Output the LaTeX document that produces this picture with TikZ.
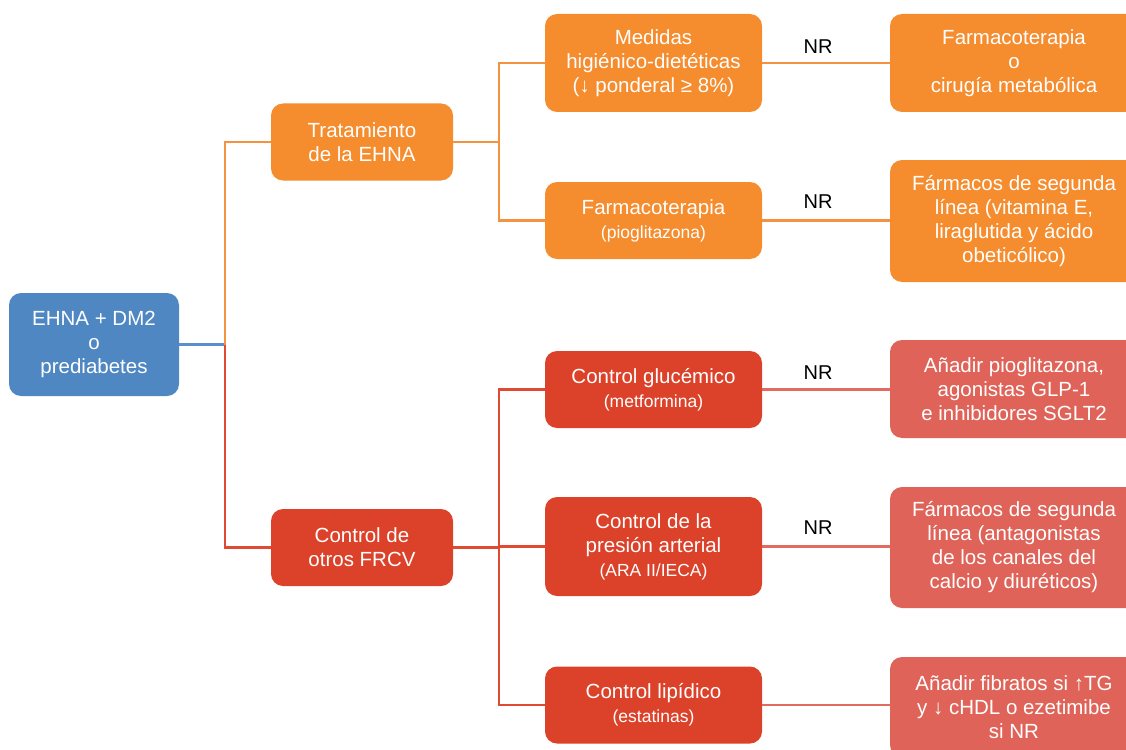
\documentclass[tikz,border=0pt]{standalone}
\usepackage{fontspec}
\setmainfont{Liberation Sans}
\definecolor{cblue}{HTML}{4F87C2}
\definecolor{corange}{HTML}{F58C2D}
\definecolor{cred}{HTML}{DC4129}
\definecolor{clight}{HTML}{DF6358}
\definecolor{lblue}{HTML}{5A8FCB}
\definecolor{lorange}{HTML}{F59240}
\definecolor{lred}{HTML}{E04A33}
\definecolor{llight}{HTML}{E36A61}
\newcommand{\smtxt}{\fontsize{17.5}{24}\selectfont}
\tikzset{
  box/.style={rounded corners=12pt, text=white, align=center, inner sep=0pt,
    font=\fontsize{20.5}{24}\selectfont},
  bluebox/.style={box, fill=cblue, minimum width=170pt, minimum height=103pt},
  orbox/.style={box, fill=corange},
  rdbox/.style={box, fill=cred},
  ltbox/.style={box, fill=clight},
  lvtwo/.style={minimum width=182pt, minimum height=77pt},
  lvthree/.style={minimum width=217pt},
  rbox/.style={minimum width=248pt},
  ln/.style={line width=2.2pt},
  nrlab/.style={font=\fontsize{20}{24}\selectfont, text=black, inner sep=0pt}
}
\begin{document}
\begin{tikzpicture}[x=1pt,y=-1pt]
\useasboundingbox (0,0) rectangle (1126,749);
\clip (0,0) rectangle (1126,749);
% level 1
\node[bluebox] (ehna) at (94,344.5) {EHNA + DM2\\o\\prediabetes};
% level 2
\node[orbox,lvtwo] (trat) at (362,142) {Tratamiento\\de la EHNA};
\node[rdbox,lvtwo] (frcv) at (362,547.5) {Control de\\otros FRCV};
% level 3
\node[orbox,lvthree,minimum height=98pt] (med) at (653.5,63) {Medidas\\higiénico-dietéticas\\(↓ ponderal ≥ 8\%)};
\node[orbox,lvthree,minimum height=77pt] (farm) at (653.5,220.5) {Farmacoterapia\\{\smtxt(pioglitazona)}};
\node[rdbox,lvthree,minimum height=77pt] (gluc) at (653.5,389.5) {Control glucémico\\{\smtxt(metformina)}};
\node[rdbox,lvthree,minimum height=99pt] (pres) at (653.5,546.5) {Control de la\\presión arterial\\{\smtxt(ARA II/IECA)}};
\node[rdbox,lvthree,minimum height=77pt] (lip) at (653.5,705) {Control lipídico\\{\smtxt(estatinas)}};
% level 4
\node[orbox,rbox,minimum height=98pt] (r1) at (1014,63) {Farmacoterapia\\o\\cirugía metabólica};
\node[orbox,rbox,minimum height=122pt] (r2) at (1014,221) {Fármacos de segunda\\línea (vitamina E,\\liraglutida y ácido\\obeticólico)};
\node[ltbox,rbox,minimum height=98pt] (r3) at (1014,389) {Añadir pioglitazona,\\agonistas GLP-1\\e inhibidores SGLT2};
\node[ltbox,rbox,minimum height=121pt] (r4) at (1014,547.5) {Fármacos de segunda\\línea (antagonistas\\de los canales del\\calcio y diuréticos)};
\node[ltbox,rbox,minimum height=100pt] (r5) at (1014,707) {Añadir fibratos si ↑TG\\y ↓ cHDL o ezetimibe\\si NR};
% junctions
\coordinate (j1) at (225,344.5);
\coordinate (j2) at (499,142);
\coordinate (j3) at (499,547.5);
% connectors
\draw[ln,lblue] (ehna.east) -- (j1);
\draw[ln,lorange] (j1) |- (trat.west);
\draw[ln,lred] (j1) |- (frcv.west);
\draw[ln,lorange] (trat.east) -- (j2);
\draw[ln,lorange] (j2) |- (med.west);
\draw[ln,lorange] (j2) |- (farm.west);
\draw[ln,lred] (frcv.east) -- (j3);
\draw[ln,lred] (j3) |- (gluc.west);
\draw[ln,lred] (j3) |- (pres.west);
\draw[ln,lred] (j3) |- (lip.west);
\draw[ln,lorange] (med.east) -- (med.east -| r1.west);
\draw[ln,lorange] (farm.east) -- (farm.east -| r2.west);
\draw[ln,llight] (gluc.east) -- (gluc.east -| r3.west);
\draw[ln,llight] (pres.east) -- (pres.east -| r4.west);
\draw[ln,llight] (lip.east) -- (lip.east -| r5.west);
% NR labels
\node[nrlab] (nr1) at (818,47) {NR};
\node[nrlab] (nr2) at (818,202) {NR};
\node[nrlab] (nr3) at (818,373) {NR};
\node[nrlab] (nr4) at (818,528) {NR};
\end{tikzpicture}
\end{document}
